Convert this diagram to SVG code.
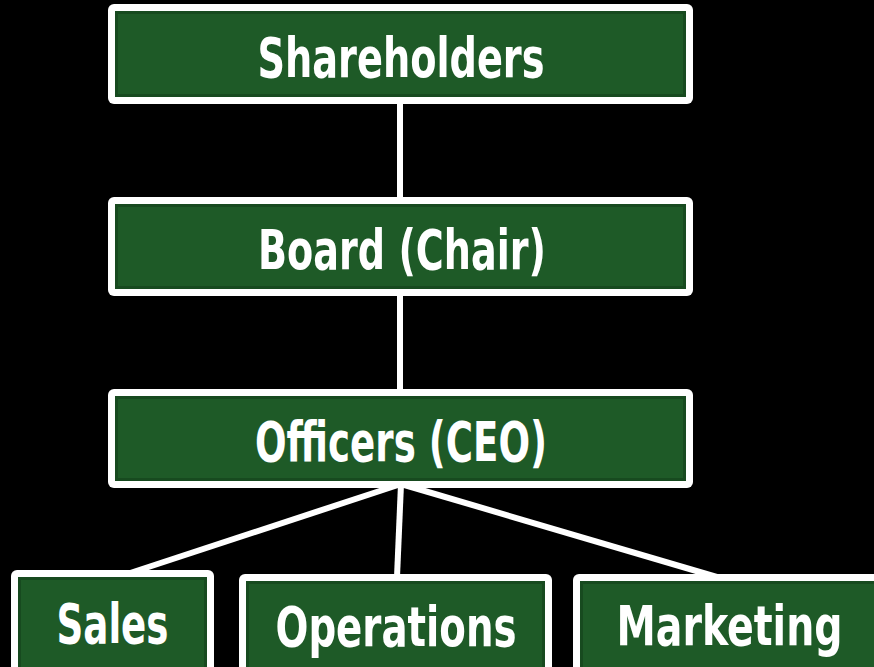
<svg xmlns="http://www.w3.org/2000/svg" width="874" height="667" viewBox="0 0 874 667">
<style>
.frame{fill:#ffffff;}
.box{fill:#1e5a27;stroke:#174a1f;stroke-width:3;}
.lbl{font-family:"DejaVu Sans Condensed","DejaVu Sans","Liberation Sans",sans-serif;font-stretch:condensed;font-weight:bold;font-size:55px;fill:#ffffff;text-anchor:middle;}
.conn{stroke:#ffffff;stroke-width:6;fill:none;}
</style>
<rect x="0" y="0" width="874" height="667" fill="#000000"/>
<g id="connectors">
<line class="conn" x1="400" y1="100" x2="400" y2="200"/>
<line class="conn" x1="400" y1="293" x2="400" y2="393"/>
<line class="conn" x1="401" y1="484" x2="115" y2="578"/>
<line class="conn" x1="401" y1="484" x2="397" y2="577"/>
<line class="conn" x1="401" y1="484" x2="727" y2="580"/>
</g>
<g id="shareholders">
<rect class="frame" x="108" y="4" width="585" height="100" rx="6"/>
<rect class="box" x="116.5" y="12.5" width="568" height="83"/>
<text class="lbl" x="401" y="77" textLength="287" lengthAdjust="spacingAndGlyphs">Shareholders</text>
</g>
<g id="board">
<rect class="frame" x="108" y="197" width="585" height="99" rx="6"/>
<rect class="box" x="116.5" y="205.5" width="568" height="82"/>
<text class="lbl" x="402" y="269" textLength="288" lengthAdjust="spacingAndGlyphs">Board (Chair)</text>
</g>
<g id="officers">
<rect class="frame" x="108" y="389" width="585" height="99" rx="6"/>
<rect class="box" x="116.5" y="397.5" width="568" height="82"/>
<text class="lbl" x="401" y="461" textLength="292" lengthAdjust="spacingAndGlyphs">Officers (CEO)</text>
</g>
<g id="sales">
<rect class="frame" x="11" y="570" width="203" height="110" rx="6"/>
<rect class="box" x="19.5" y="578.5" width="186" height="100"/>
<text class="lbl" x="112.5" y="643" textLength="112" lengthAdjust="spacingAndGlyphs">Sales</text>
</g>
<g id="operations">
<rect class="frame" x="239" y="574" width="313" height="110" rx="6"/>
<rect class="box" x="247.5" y="582.5" width="296" height="100"/>
<text class="lbl" x="396" y="646" textLength="241" lengthAdjust="spacingAndGlyphs">Operations</text>
</g>
<g id="marketing">
<rect class="frame" x="573" y="574" width="320" height="110" rx="6"/>
<rect class="box" x="581.5" y="582.5" width="303" height="100"/>
<text class="lbl" x="729.5" y="645" textLength="226" lengthAdjust="spacingAndGlyphs">Marketing</text>
</g>
</svg>
